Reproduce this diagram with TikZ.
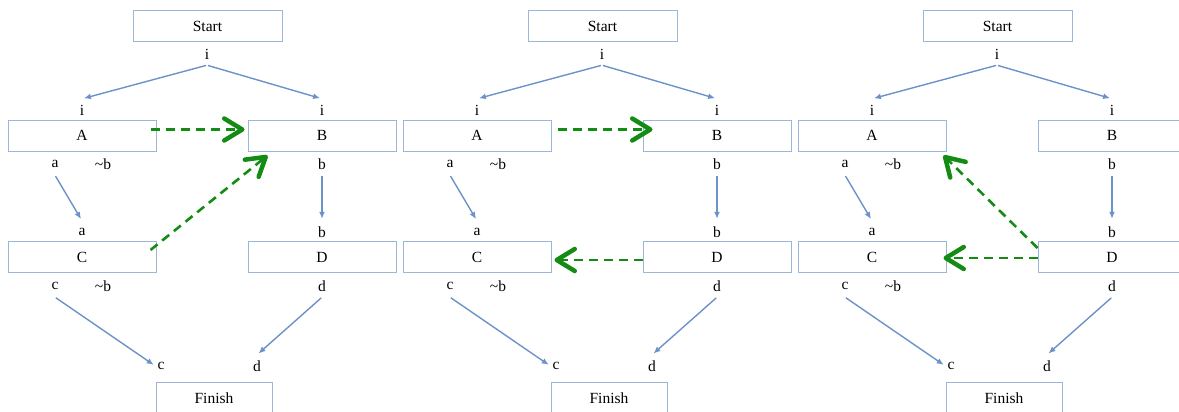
\documentclass[tikz,border=0pt]{standalone}
\usepackage{fontspec}
\setmainfont{Liberation Serif}
\usetikzlibrary{arrows.meta,calc}
\definecolor{boxc}{RGB}{155,182,214}
\definecolor{arrc}{RGB}{108,146,200}
\definecolor{grn}{RGB}{20,140,20}
\begin{document}
\begin{tikzpicture}[x=1pt,y=-1pt,
  box/.style={draw=boxc,line width=1pt,minimum width=148pt,minimum height=31pt,inner sep=0pt,font=\fontsize{15.5}{17}\selectfont},
  lbl/.style={inner sep=2pt,minimum height=22pt,font=\fontsize{15.5}{17}\selectfont},
  flow/.style={draw=arrc,line width=1.4pt,-{Latex[length=7pt,width=6pt]},shorten <=1pt,shorten >=2pt},
  dep/.style={draw=grn,line width=2.6pt,dash pattern=on 9pt off 6pt,-{Straight Barb[length=18pt,width=22pt,line width=4.5pt,round]}}]
\useasboundingbox (0,0) rectangle (1179,412);
\clip (0,0) rectangle (1179,412);
\foreach \p/\o in {1/0,2/395,3/790}{
  \node[box,minimum width=149pt] (S\p) at (207.5+\o,26.5) {Start};
  \node[lbl] (iS\p) at (207+\o,54) {i};
  \node[lbl] (iA\p) at (82+\o,110) {i};
  \node[lbl] (iB\p) at (322+\o,110) {i};
  \node[box] (A\p) at (82+\o,135.5) {A};
  \node[box] (B\p) at (322+\o,135.5) {B};
  \node[lbl] (aA\p) at (55+\o,164) {a};
  \node[lbl] (nbA\p) at (103+\o,164) {\textasciitilde b};
  \node[lbl] (bB\p) at (322+\o,164) {b};
  \node[lbl] (aC\p) at (82+\o,232) {a};
  \node[lbl] (bD\p) at (322+\o,232) {b};
  \node[box] (C\p) at (82+\o,257) {C};
  \node[box] (D\p) at (322+\o,257) {D};
  \node[lbl] (cC\p) at (55+\o,286) {c};
  \node[lbl] (nbC\p) at (103+\o,286) {\textasciitilde b};
  \node[lbl] (dD\p) at (322+\o,286) {d};
  \node[lbl] (cF\p) at (161+\o,366) {c};
  \node[lbl] (dF\p) at (257+\o,366) {d};
  \node[box,minimum width=116pt] (F\p) at (214+\o,398) {Finish};
  \draw[flow] (iS\p.south) -- (iA\p.north);
  \draw[flow] (iS\p.south) -- (iB\p.north);
  \draw[flow] (aA\p.south) -- (aC\p.north);
  \draw[flow] (bB\p.south) -- (bD\p.north);
  \draw[flow] (cC\p.south) -- (cF\p.west);
  \draw[flow] (dD\p.south) -- (dF\p.north);
}
% panel 1
\draw[dep] ($(A1.east)+(-6,-6)$) -- ($(B1.west)+(-3,-6)$);
\draw[dep] ($(C1.east)+(-6,-7)$) -- ($(B1.south west)+(20,4)$);
% panel 2
\draw[dep] ($(A2.east)+(6,-6)$) -- ($(B2.west)+(10,-6)$);
\draw[dep] ($(D2.west)+(0,3)$) -- ($(C2.east)+(3,3)$);
% panel 3
\draw[dep] ($(D3.west)+(0,-9)$) -- ($(A3.south east)+(-3,4)$);
\draw[dep] ($(D3.west)+(0,1)$) -- ($(C3.east)+(-3,1)$);
\end{tikzpicture}
\end{document}
